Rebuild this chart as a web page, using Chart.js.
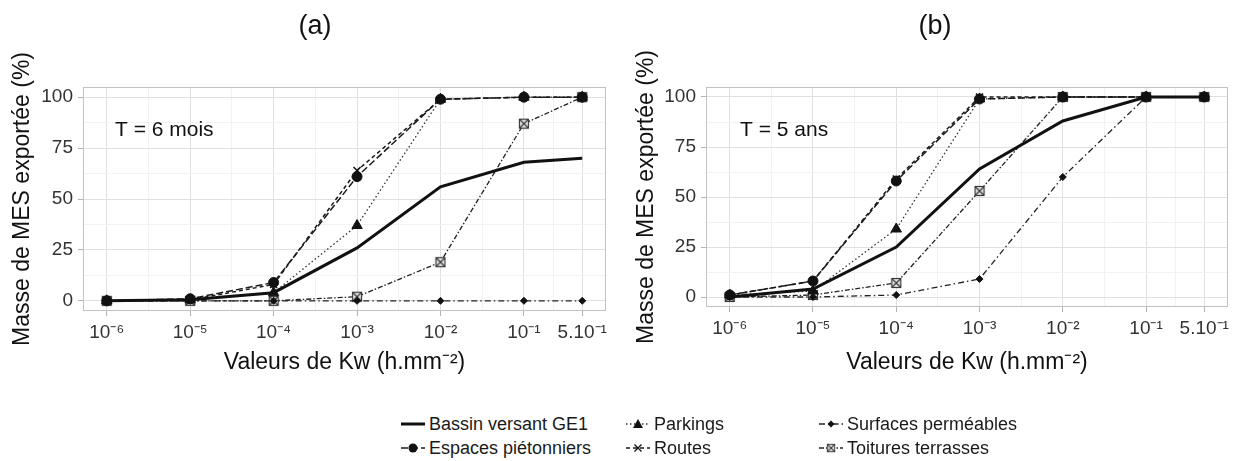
<!DOCTYPE html>
<html>
<head>
<meta charset="utf-8">
<script src="https://cdn.jsdelivr.net/npm/chart.js"></script>
<style>
    body { margin: 0; background: #fff; width: 1250px; height: 461px; overflow: hidden; position: relative;
           font-family: "Liberation Sans", Arial, sans-serif; }
    .panel { position: absolute; top: 0; height: 380px; }
    #panelA { left: 0; width: 620px; }
    #panelB { left: 620px; width: 630px; }
    .key { position: absolute; height: 22px; display: flex; align-items: center; font-size: 18px; color: #1a1a1a; white-space: nowrap; }
    .key canvas { margin-right: 3px; }
</style>
</head>
<body>
<div class="panel" id="panelA"><canvas id="chartA" width="620" height="380"></canvas></div>
<div class="panel" id="panelB"><canvas id="chartB" width="630" height="380"></canvas></div>
<div id="legend"></div>

<script>
// Kw values (h.mm-2) and their tick labels
const kwValues = [1e-6, 1e-5, 1e-4, 1e-3, 1e-2, 1e-1, 0.5];
const kwLabels = ['10⁻⁶', '10⁻⁵', '10⁻⁴', '10⁻³', '10⁻²', '10⁻¹', '5.10⁻¹'];
const yTickValues = [0, 25, 50, 75, 100];

const seriesNames = ['Bassin versant GE1', 'Espaces piétonniers', 'Parkings', 'Routes', 'Surfaces perméables', 'Toitures terrasses'];

// (a) T = 6 mois
const bassinA = [0, 0.5, 4, 26, 56, 68, 70];
const espacesA = [0, 1, 9, 61, 99, 100, 100];
const parkingsA = [0, 0.5, 4, 37, 99, 100, 100];
const routesA = [0, 0.5, 8, 64, 99, 100, 100];
const surfacesA = [0, 0, 0, 0, 0, 0, 0];
const toituresA = [0, 0, 0, 2, 19, 87, 100];

// (b) T = 5 ans
const bassinB = [0, 4, 25, 64, 88, 100, 100];
const espacesB = [1, 8, 58, 99, 100, 100, 100];
const parkingsB = [1, 3, 34, 99, 100, 100, 100];
const routesB = [1, 8, 59, 100, 100, 100, 100];
const surfacesB = [0, 0, 1, 9, 60, 100, 100];
const toituresB = [0, 1, 7, 53, 100, 100, 100];

Chart.defaults.font.family = '"Liberation Sans", Arial, sans-serif';

function makeToitureMark() {
    const c = document.createElement('canvas');
    c.width = 12;
    c.height = 12;
    const g = c.getContext('2d');
    g.fillStyle = '#e4e4e4';
    g.fillRect(1, 1, 10, 10);
    g.strokeStyle = '#3a3a3a';
    g.lineWidth = 1.2;
    g.strokeRect(1.5, 1.5, 9, 9);
    g.beginPath();
    g.moveTo(2, 2); g.lineTo(10, 10);
    g.moveTo(10, 2); g.lineTo(2, 10);
    g.stroke();
    return c;
}

const toitureMark = makeToitureMark();

const styles = [
    { color: '#111', width: 3, dash: [], point: 'circle', radius: 0 },
    { color: '#1a1a1a', width: 1.5, dash: [7, 3], point: 'circle', radius: 5 },
    { color: '#333', width: 1.3, dash: [1.5, 2.5], point: 'triangle', radius: 6 },
    { color: '#1a1a1a', width: 1.5, dash: [4, 3], point: 'crossRot', radius: 5 },
    { color: '#222', width: 1.3, dash: [6, 3, 1.5, 3], point: 'rectRot', radius: 3.5 },
    { color: '#222', width: 1.3, dash: [5, 2, 1.5, 2], point: toitureMark, radius: 6 }
];

function buildDatasets(seriesList) {
    return seriesList.map((values, i) => {
        const s = styles[i];
        return {
            label: seriesNames[i],
            data: values.map((v, j) => ({ x: kwValues[j], y: v })),
            borderColor: s.color,
            borderWidth: s.width,
            borderDash: s.dash,
            backgroundColor: '#111',
            pointStyle: s.point,
            pointRadius: s.radius,
            pointBorderColor: '#111',
            pointBackgroundColor: '#111',
            pointBorderWidth: i === 3 ? 1.5 : 1,
            tension: 0,
            fill: false
        };
    });
}

function buildXTicks() {
    const ticks = [];
    kwValues.forEach((v, i) => {
        ticks.push({ value: v, minor: false });
        if (i < kwValues.length - 1) {
            ticks.push({ value: Math.sqrt(v * kwValues[i + 1]), minor: true });
        }
    });
    return ticks;
}

function buildYTicks() {
    const ticks = [];
    yTickValues.forEach((v, i) => {
        ticks.push({ value: v, minor: false });
        if (i < yTickValues.length - 1) {
            ticks.push({ value: (v + yTickValues[i + 1]) / 2, minor: true });
        }
    });
    return ticks;
}

const panelPlugin = {
    id: 'panelBox',
    beforeDatasetsDraw(chart, args, opts) {
        const { ctx, chartArea: a } = chart;
        ctx.save();
        ctx.strokeStyle = '#c2c2c2';
        ctx.lineWidth = 1;
        ctx.strokeRect(Math.round(a.left) + 0.5, Math.round(a.top) + 0.5, Math.round(a.width) - 1, Math.round(a.height) - 1);
        ctx.restore();
    },
    afterDatasetsDraw(chart, args, opts) {
        const { ctx, chartArea: a } = chart;
        ctx.save();
        ctx.font = '21px "Liberation Sans", Arial, sans-serif';
        ctx.fillStyle = '#111';
        ctx.textBaseline = 'middle';
        ctx.fillText(opts.note, a.left + opts.noteDx, a.top + 43);
        ctx.restore();
    }
};

function drawChart(canvasId, title, note, seriesList, layout) {
    const logPad = 0.05 * (Math.log10(0.5) - Math.log10(1e-6));
    const gridColor = c => (c.tick && c.tick.minor) ? '#f2f2f2' : '#e0e0e0';
    const tickColor = c => (c.tick && c.tick.minor) ? 'rgba(0,0,0,0)' : '#b3b3b3';

    return new Chart(document.getElementById(canvasId), {
        type: 'line',
        data: { datasets: buildDatasets(seriesList) },
        plugins: [panelPlugin],
        options: {
            responsive: false,
            animation: false,
            layout: { padding: { left: layout.left, right: layout.right, top: 0, bottom: 0 } },
            plugins: {
                legend: { display: false },
                tooltip: { enabled: false },
                title: {
                    display: true,
                    text: title,
                    color: '#111',
                    font: { size: 27, weight: 'normal' },
                    padding: { top: 10, bottom: 44.6 }
                },
                panelBox: { note: note, noteDx: layout.noteDx }
            },
            scales: {
                x: {
                    type: 'logarithmic',
                    min: Math.pow(10, -6 - logPad),
                    max: Math.pow(10, Math.log10(0.5) + logPad),
                    afterBuildTicks: s => { s.ticks = buildXTicks(); },
                    afterFit: s => { s.height = layout.xHeight; },
                    border: { display: false },
                    grid: { color: gridColor, tickColor: tickColor, tickLength: 5, lineWidth: 1 },
                    ticks: {
                        autoSkip: false,
                        maxRotation: 0,
                        color: '#333',
                        font: { size: 19 },
                        padding: 5,
                        callback: (value, index, ticks) => {
                            if (ticks[index].minor) return '';
                            const k = kwValues.findIndex(v => Math.abs(Math.log10(v) - Math.log10(value)) < 1e-6);
                            return k >= 0 ? kwLabels[k] : '';
                        }
                    },
                    title: {
                        display: true,
                        text: 'Valeurs de Kw (h.mm⁻²)',
                        color: '#111',
                        font: { size: 23 },
                        padding: { top: 0, bottom: layout.xTitlePad }
                    }
                },
                y: {
                    min: -5,
                    max: 105,
                    afterBuildTicks: s => { s.ticks = buildYTicks(); },
                    afterFit: s => { s.width = layout.yWidth; },
                    border: { display: false },
                    grid: { color: gridColor, tickColor: tickColor, tickLength: 5, lineWidth: 1 },
                    ticks: {
                        autoSkip: false,
                        color: '#333',
                        font: { size: 19 },
                        padding: 5,
                        callback: (value, index, ticks) => ticks[index].minor ? '' : value
                    },
                    title: {
                        display: true,
                        text: 'Masse de MES exportée (%)',
                        color: '#111',
                        font: { size: 23 },
                        padding: { top: layout.yTitlePad, bottom: 0 }
                    }
                }
            }
        }
    });
}

function drawKeySample(canvas, i) {
    const s = styles[i];
    const g = canvas.getContext('2d');
    const w = canvas.width, h = canvas.height;
    g.strokeStyle = s.color;
    g.lineWidth = s.width;
    g.setLineDash(s.dash);
    g.beginPath();
    g.moveTo(1, h / 2);
    g.lineTo(w - 1, h / 2);
    g.stroke();
    g.setLineDash([]);
    if (!s.radius) return;
    const cx = w / 2, cy = h / 2, r = s.radius;
    g.fillStyle = '#111';
    g.strokeStyle = '#111';
    g.lineWidth = 1.3;
    g.beginPath();
    if (s.point === 'circle') {
        g.arc(cx, cy, r - 0.5, 0, Math.PI * 2);
        g.fill();
    } else if (s.point === 'triangle') {
        g.moveTo(cx, cy - r + 1);
        g.lineTo(cx + r - 1, cy + r - 2);
        g.lineTo(cx - r + 1, cy + r - 2);
        g.closePath();
        g.fill();
    } else if (s.point === 'crossRot') {
        const d = r * 0.7;
        g.moveTo(cx - d, cy - d); g.lineTo(cx + d, cy + d);
        g.moveTo(cx + d, cy - d); g.lineTo(cx - d, cy + d);
        g.stroke();
    } else if (s.point === 'rectRot') {
        g.moveTo(cx, cy - r); g.lineTo(cx + r, cy); g.lineTo(cx, cy + r); g.lineTo(cx - r, cy);
        g.closePath();
        g.fill();
    } else {
        g.drawImage(s.point, cx - 5, cy - 5, 10, 10);
    }
}

function buildLegend() {
    const legend = document.getElementById('legend');
    const columns = [400, 625, 818];
    const rows = [413, 437];
    seriesNames.forEach((name, i) => {
        const col = Math.floor(i / 2), row = i % 2;
        const item = document.createElement('div');
        item.className = 'key';
        item.style.left = columns[col] + 'px';
        item.style.top = rows[row] + 'px';
        const sample = document.createElement('canvas');
        sample.width = 26;
        sample.height = 16;
        drawKeySample(sample, i);
        const label = document.createElement('span');
        label.textContent = name;
        item.appendChild(sample);
        item.appendChild(label);
        legend.appendChild(item);
    });
}

drawChart('chartA', '(a)', 'T = 6 mois',
    [bassinA, espacesA, parkingsA, routesA, surfacesA, toituresA],
    { left: 24, right: 14, yWidth: 59, xHeight: 69, xTitlePad: 3.5, yTitlePad: -14.8, noteDx: 32 });
drawChart('chartB', '(b)', 'T = 5 ans',
    [bassinB, espacesB, parkingsB, routesB, surfacesB, toituresB],
    { left: 22, right: 22, yWidth: 64, xHeight: 73, xTitlePad: 4, yTitlePad: -8.8, noteDx: 34 });
buildLegend();
</script>
</body>
</html>
